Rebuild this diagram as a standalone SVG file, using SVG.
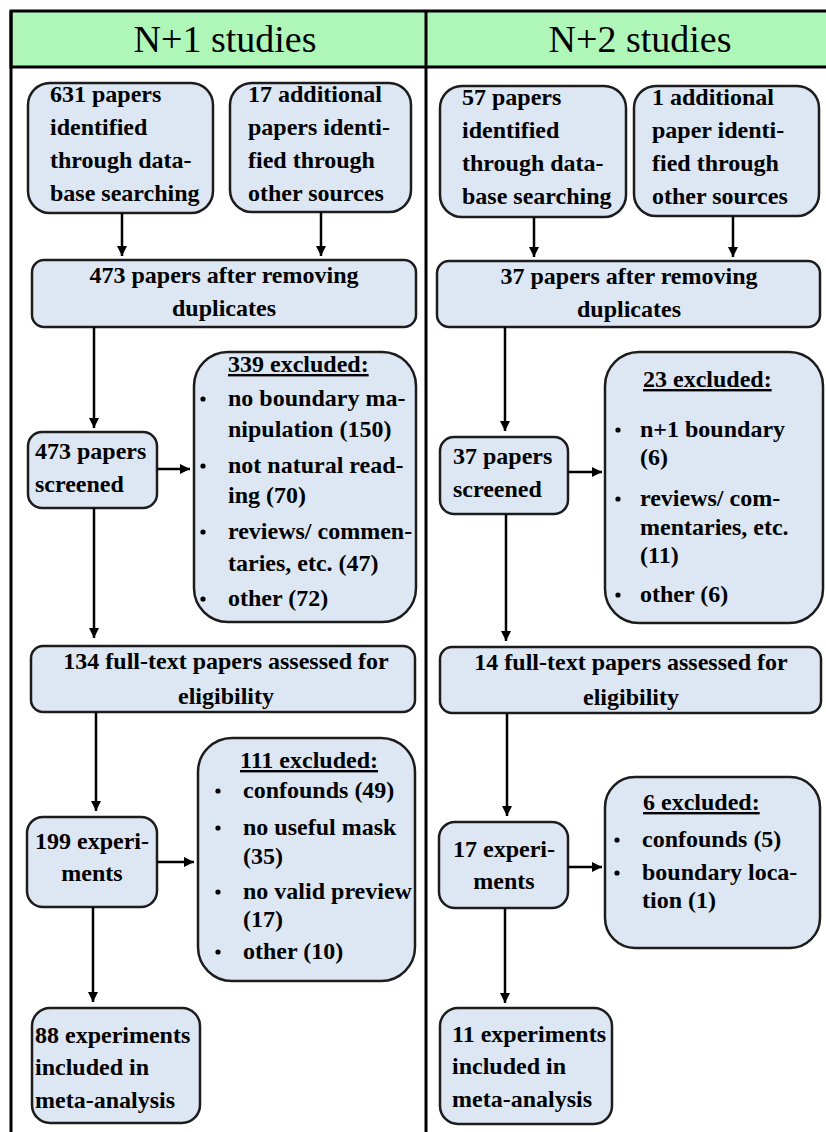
<svg xmlns="http://www.w3.org/2000/svg" width="826" height="1132" viewBox="0 0 826 1132" font-family="'Liberation Serif', 'Times New Roman', 'DejaVu Serif', serif">
<defs>
<style>
text{font-family:'Liberation Serif','Times New Roman','DejaVu Serif',serif}
.box{fill:#dce7f3;stroke:#1c1c1c;stroke-width:2.5}
.t{font-weight:bold;font-size:24px;fill:#000}
.c{text-anchor:middle}
.u{text-decoration:underline}
.h{font-size:38px;fill:#000;text-anchor:middle}
.frame{stroke:#000;stroke-width:3;fill:none}
.conn line{stroke:#000;stroke-width:2.5}
.b{fill:#000}
</style>
<marker id="ah" markerUnits="userSpaceOnUse" markerWidth="12" markerHeight="12" refX="10" refY="5" orient="auto">
<path d="M0,0 L10,5 L0,10 Z" fill="#000"/>
</marker>
</defs>
<rect width="826" height="1132" fill="#fff"/>
<g id="frame">
<rect x="11" y="11" width="840" height="56" fill="#aef7b8" stroke="#000" stroke-width="3"/>
<line class="frame" x1="11" y1="11" x2="11" y2="1132"/>
<line class="frame" x1="426" y1="11" x2="426" y2="1132"/>
<text class="h" x="225" y="52">N+1 studies</text>
<text class="h" x="640" y="52">N+2 studies</text>
</g>
<g id="L_A1"><rect class="box" x="28" y="83" width="185" height="130" rx="22"/>
<text class="t" x="50" y="102">631 papers</text><text class="t" x="50" y="135">identified</text><text class="t" x="50" y="168">through data-</text><text class="t" x="50" y="201">base searching</text></g>
<g id="L_A2"><rect class="box" x="230" y="83" width="181" height="129" rx="22"/>
<text class="t" x="248" y="102">17 additional</text><text class="t" x="248" y="135">papers identi-</text><text class="t" x="248" y="168">fied through</text><text class="t" x="248" y="201">other sources</text></g>
<g id="L_B"><rect class="box" x="32" y="260" width="384" height="67" rx="12"/>
<text class="t c" x="224" y="283">473 papers after removing</text><text class="t c" x="224" y="316">duplicates</text></g>
<g id="L_C"><rect class="box" x="28" y="432" width="129" height="76" rx="14"/>
<text class="t" x="35" y="459">473 papers</text><text class="t" x="35" y="492">screened</text></g>
<g id="L_D"><rect class="box" x="194" y="352" width="222" height="270" rx="34"/>
<text class="t u" x="228" y="372">339 excluded:</text>
<circle class="b" cx="203" cy="399" r="2.6"/><text class="t" x="228" y="406">no boundary ma-</text><text class="t" x="228" y="437">nipulation (150)</text>
<circle class="b" cx="203" cy="466" r="2.6"/><text class="t" x="228" y="473">not natural read-</text><text class="t" x="228" y="503">ing (70)</text>
<circle class="b" cx="203" cy="532" r="2.6"/><text class="t" x="228" y="539">reviews/ commen-</text><text class="t" x="228" y="571">taries, etc. (47)</text>
<circle class="b" cx="203" cy="599" r="2.6"/><text class="t" x="228" y="606">other (72)</text></g>
<g id="L_E"><rect class="box" x="31" y="646" width="384" height="66" rx="12"/>
<text class="t c" x="226" y="669">134 full-text papers assessed for</text><text class="t c" x="226" y="704">eligibility</text></g>
<g id="L_F"><rect class="box" x="27" y="817" width="130" height="90" rx="16"/>
<text class="t c" x="92" y="849">199 experi-</text><text class="t c" x="92" y="881">ments</text></g>
<g id="L_G"><rect class="box" x="198" y="738" width="217" height="243" rx="34"/>
<text class="t u" x="240" y="768">111 excluded:</text>
<circle class="b" cx="218" cy="791" r="2.6"/><text class="t" x="243" y="798">confounds (49)</text>
<circle class="b" cx="218" cy="828" r="2.6"/><text class="t" x="243" y="835">no useful mask</text><text class="t" x="243" y="864">(35)</text>
<circle class="b" cx="218" cy="892" r="2.6"/><text class="t" x="243" y="899">no valid preview</text><text class="t" x="243" y="927">(17)</text>
<circle class="b" cx="218" cy="952" r="2.6"/><text class="t" x="243" y="959">other (10)</text></g>
<g id="L_H"><rect class="box" x="32" y="1008" width="168" height="115" rx="18"/>
<text class="t" x="35" y="1043">88 experiments</text><text class="t" x="35" y="1075">included in</text><text class="t" x="35" y="1108">meta-analysis</text></g>
<g id="R_A1"><rect class="box" x="440" y="86" width="186" height="131" rx="22"/>
<text class="t" x="462" y="105">57 papers</text><text class="t" x="462" y="138">identified</text><text class="t" x="462" y="171">through data-</text><text class="t" x="462" y="204">base searching</text></g>
<g id="R_A2"><rect class="box" x="634" y="86" width="185" height="130" rx="22"/>
<text class="t" x="652" y="105">1 additional</text><text class="t" x="652" y="138">paper identi-</text><text class="t" x="652" y="171">fied through</text><text class="t" x="652" y="204">other sources</text></g>
<g id="R_B"><rect class="box" x="437" y="261" width="383" height="66" rx="12"/>
<text class="t c" x="629" y="284">37 papers after removing</text><text class="t c" x="629" y="317">duplicates</text></g>
<g id="R_C"><rect class="box" x="440" y="437" width="128" height="77" rx="14"/>
<text class="t" x="453" y="464">37 papers</text><text class="t" x="453" y="497">screened</text></g>
<g id="R_D"><rect class="box" x="605" y="352" width="218" height="271" rx="34"/>
<text class="t u" x="643" y="387">23 excluded:</text>
<circle class="b" cx="618" cy="430" r="2.6"/><text class="t" x="640" y="437">n+1 boundary</text><text class="t" x="640" y="465">(6)</text>
<circle class="b" cx="618" cy="499" r="2.6"/><text class="t" x="640" y="506">reviews/ com-</text><text class="t" x="640" y="535">mentaries, etc.</text><text class="t" x="640" y="563">(11)</text>
<circle class="b" cx="618" cy="595" r="2.6"/><text class="t" x="640" y="602">other (6)</text></g>
<g id="R_E"><rect class="box" x="440" y="647" width="381" height="66" rx="12"/>
<text class="t c" x="631" y="670">14 full-text papers assessed for</text><text class="t c" x="631" y="705">eligibility</text></g>
<g id="R_F"><rect class="box" x="439" y="822" width="129" height="86" rx="16"/>
<text class="t c" x="504" y="857">17 experi-</text><text class="t c" x="504" y="889">ments</text></g>
<g id="R_G"><rect class="box" x="605" y="777" width="215" height="171" rx="30"/>
<text class="t u" x="643" y="810">6 excluded:</text>
<circle class="b" cx="617" cy="840" r="2.6"/><text class="t" x="642" y="847">confounds (5)</text>
<circle class="b" cx="617" cy="873" r="2.6"/><text class="t" x="642" y="880">boundary loca-</text><text class="t" x="642" y="908">tion (1)</text></g>
<g id="R_H"><rect class="box" x="440" y="1008" width="172" height="116" rx="18"/>
<text class="t" x="452" y="1042">11 experiments</text><text class="t" x="452" y="1074">included in</text><text class="t" x="452" y="1107">meta-analysis</text></g>
<g id="connectors" class="conn">
<line x1="122" y1="213" x2="122" y2="256" marker-end="url(#ah)"/>
<line x1="321" y1="212" x2="321" y2="256" marker-end="url(#ah)"/>
<line x1="94" y1="327" x2="94" y2="428" marker-end="url(#ah)"/>
<line x1="157" y1="469" x2="190" y2="469" marker-end="url(#ah)"/>
<line x1="94" y1="508" x2="94" y2="638" marker-end="url(#ah)"/>
<line x1="96" y1="712" x2="96" y2="811" marker-end="url(#ah)"/>
<line x1="157" y1="862" x2="194" y2="862" marker-end="url(#ah)"/>
<line x1="93" y1="907" x2="93" y2="1002" marker-end="url(#ah)"/>
<line x1="534" y1="217" x2="534" y2="257" marker-end="url(#ah)"/>
<line x1="733" y1="216" x2="733" y2="257" marker-end="url(#ah)"/>
<line x1="505" y1="327" x2="505" y2="431" marker-end="url(#ah)"/>
<line x1="568" y1="472" x2="602" y2="472" marker-end="url(#ah)"/>
<line x1="506" y1="514" x2="506" y2="641" marker-end="url(#ah)"/>
<line x1="507" y1="713" x2="507" y2="816" marker-end="url(#ah)"/>
<line x1="568" y1="867" x2="602" y2="867" marker-end="url(#ah)"/>
<line x1="505" y1="908" x2="505" y2="1003" marker-end="url(#ah)"/>
</g>
</svg>
